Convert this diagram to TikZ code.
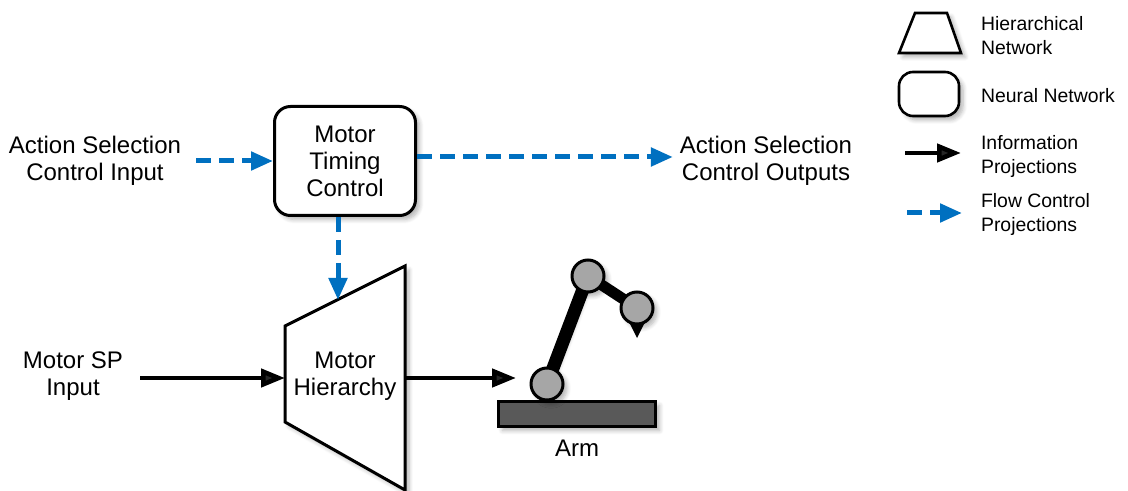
\documentclass[tikz,border=0pt]{standalone}
\usepackage{fontspec}
\setmainfont{Liberation Sans}
\usetikzlibrary{arrows.meta,shadows.blur}

\definecolor{flowblue}{RGB}{0,112,192}
\definecolor{jointgray}{RGB}{166,166,166}
\definecolor{basegray}{RGB}{89,89,89}

\begin{document}
\begin{tikzpicture}[x=0.5pt,y=-0.5pt]
\tikzset{
  txt/.style={align=center,font=\fontsize{12}{13.5}\selectfont},
  legtxt/.style={align=left,anchor=west,font=\fontsize{9.7}{12}\selectfont},
  shade/.style={blur shadow={shadow xshift=2pt,shadow yshift=-2pt,shadow opacity=30,shadow blur steps=6}},
  net/.style={draw,line width=1.5pt,rounded corners=8pt,fill=white,shade},
  info/.style={line width=2.3pt,-{Triangle[length=12pt,width=9pt]}},
  flow/.style={flowblue,line width=2.5pt,dash pattern=on 7.5pt off 4pt,-{Triangle[length=11pt,width=9pt]}}
}
\useasboundingbox (0,0) rectangle (1128,491);

% neural network block
\node[net,minimum width=141*0.5pt,minimum height=109*0.5pt] (mtc) at (345,161) {};
\node[txt] (mtctext) at (345,161) {Motor\\Timing\\Control};

% hierarchical network block
\coordinate (h1) at (285,326);
\coordinate (h2) at (405,266);
\coordinate (h3) at (405,490);
\coordinate (h4) at (285,422);
\draw[line width=1.5pt,fill=white,line join=miter,shade] (h1) -- (h2) -- (h3) -- (h4) -- cycle;
\node[txt] (hier) at (345,376) {Motor\\Hierarchy};
\coordinate (hierin) at (285,378);
\coordinate (hierout) at (405,378);
\coordinate (hiertop) at (338,300);

% inputs and outputs
\node[txt] (asin) at (95,161) {Action Selection\\Control Input};
\node[txt] (asout) at (766,161) {Action Selection\\Control Outputs};
\node[txt] (spin) at (73,376) {Motor SP\\Input};
\coordinate (armin) at (516,378);

\draw[flow] (asin.east) ++(8,0) coordinate (asinend) -- (mtc.west |- asinend);
\draw[flow] (mtc.east |- 0,157) -- (asout.west |- 0,157);
\draw[flow] (mtc.south -| hiertop) -- (hiertop);
\draw[info] (spin.east |- hierin) ++(10,0) -- (hierin);
\draw[info] (hierout) -- (armin);

% arm
\node[draw,line width=1.5pt,fill=basegray,minimum width=157*0.5pt,minimum height=25*0.5pt,inner sep=0pt,shade] (armbase) at (577,414) {};
\coordinate (j1) at (547,384);
\coordinate (j2) at (588,276);
\coordinate (j3) at (637,308);
\draw[line width=6.5pt,shade] (j1) -- (j2);
\draw[line width=5.5pt] (j2) -- (j3);
\fill (627,318) -- (637,338) -- (647,318) -- cycle;
\foreach \j in {j1,j2,j3}
  \node[circle,draw,line width=1.5pt,fill=jointgray,minimum size=32*0.5pt,inner sep=0pt,shade] at (\j) {};
\node[txt] (armlabel) at (577,448) {Arm};

% legend
\draw[line width=1.3pt,fill=white,line join=miter,shade] (899,53) -- (915,13) -- (947,13) -- (961,53) -- cycle;
\node[legtxt] (leghier) at (974,36) {Hierarchical\\Network};
\node[draw,line width=1.3pt,rounded corners=7pt,fill=white,minimum width=60*0.5pt,minimum height=44*0.5pt,shade] (legnet) at (929,94) {};
\node[legtxt] (legnettext) at (974,96) {Neural Network};
\node[legtxt] (leginfo) at (974,156) {Information\\Projections};
\node[legtxt] (legflow) at (974,214) {Flow Control\\Projections};
\coordinate (li) at (905,153);
\coordinate (lie) at (961,153);
\coordinate (lf) at (907,213);
\coordinate (lfe) at (962,213);
\draw[info] (li) -- (lie);
\draw[flow] (lf) -- (lfe);
\end{tikzpicture}
\end{document}
